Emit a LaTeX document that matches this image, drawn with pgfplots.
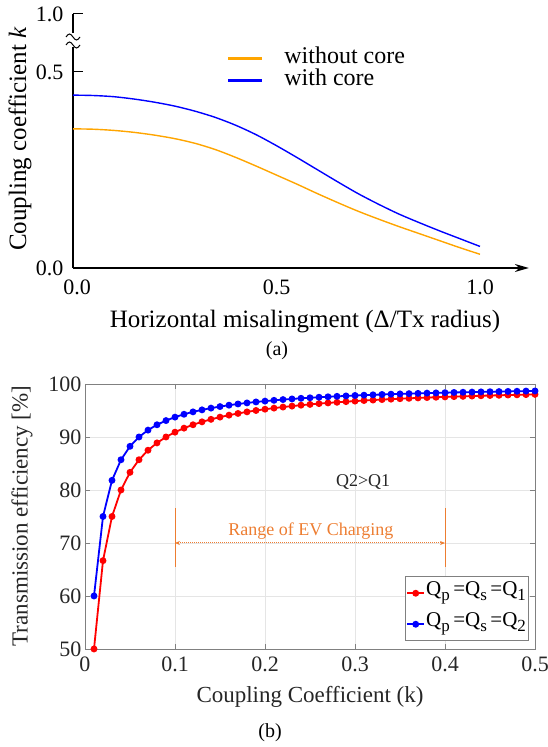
\documentclass[border=0pt]{standalone}
\usepackage{fontspec}
\setmainfont{Liberation Serif}
\usepackage{pgfplots}
\pgfplotsset{compat=1.18}
\usetikzlibrary{arrows.meta}
\definecolor{korange}{RGB}{255,165,0}
\definecolor{kblue}{RGB}{0,0,255}
\definecolor{annor}{RGB}{237,125,49}
\newcommand{\fs}[1]{\fontsize{#1}{#1}\selectfont}
\newcommand{\sub}[1]{\raisebox{-5pt}{\fs{17}#1}}

\begin{document}
\begin{tikzpicture}
% ---------------- (a) ----------------
\begin{axis}[
  at={(73pt,479pt)}, anchor=south west,
  x=407pt, y=392pt,
  xmin=0, xmax=1.12, ymin=0, ymax=0.648,
  axis x line=bottom, axis y line=left,
  x axis line style={-{Stealth[length=14pt,width=8pt]}, line width=1.2pt},
  y axis line style={-, line width=1.2pt},
  xtick={0,0.5,1}, xticklabels={\hspace*{8pt}0.0,0.5,1.0},
  ytick={0,0.5,0.648}, yticklabels={0.0,0.5,1.0},
  x tick style={draw=none},
  y tick style={line width=1pt, black},
  tick align=inside, major tick length=10pt,
  ticklabel style={font=\fs{22}},
  xticklabel style={yshift=-8pt},
  yticklabel style={xshift=-6pt},
  legend style={draw=none, fill=none, at={(axis cs:0.37,0.565)}, anchor=north west,
    font=\fs{24}, row sep=2pt, nodes={inner sep=1pt, text height=14pt, text depth=4pt},
    /tikz/every odd column/.append style={column sep=20pt}},
  legend cell align=left,
  legend image code/.code={\draw[#1, line width=2.6pt] (0pt,0pt) -- (34pt,0pt);},
  clip=false,
]
\addplot[korange, line width=1.4pt, smooth] coordinates {
(0.00,0.355) (0.05,0.354) (0.10,0.351) (0.15,0.346) (0.20,0.339) (0.25,0.330)
(0.30,0.318) (0.35,0.302) (0.40,0.282) (0.45,0.260) (0.50,0.237) (0.55,0.214)
(0.60,0.190) (0.65,0.167) (0.70,0.145) (0.75,0.125) (0.80,0.106) (0.85,0.088)
(0.90,0.070) (0.95,0.052) (1.00,0.035)};
\addlegendentry{without core}
\addplot[kblue, line width=1.4pt, smooth] coordinates {
(0.00,0.441) (0.05,0.440) (0.10,0.437) (0.15,0.431) (0.20,0.423) (0.25,0.413)
(0.30,0.400) (0.35,0.384) (0.40,0.364) (0.45,0.340) (0.50,0.312) (0.55,0.282)
(0.60,0.251) (0.65,0.220) (0.70,0.190) (0.75,0.163) (0.80,0.138) (0.85,0.116)
(0.90,0.095) (0.95,0.075) (1.00,0.055)};
\addlegendentry{with core}
\end{axis}
% axis break
\fill[white] (67pt,700pt) rectangle (79pt,714pt);
\draw[line width=1pt] (66pt,702pt) sin (69.5pt,705pt) cos (73pt,702pt) sin (76.5pt,699pt) cos (80pt,702pt);
\draw[line width=1pt] (66pt,710pt) sin (69.5pt,713pt) cos (73pt,710pt) sin (76.5pt,707pt) cos (80pt,710pt);
\node[rotate=90, font=\fs{25}] at (20pt,608pt) {Coupling coefficient \textit{k}};
\node[font=\fs{25}] at (305pt,425pt) {Horizontal misalingment (Δ/Tx radius)};
\node[font=\fs{20}] at (277pt,396pt) {(a)};

% ---------------- (b) ----------------
\begin{axis}[
  at={(85pt,98pt)}, anchor=south west,
  width=450pt, height=265pt, scale only axis,
  xmin=0, xmax=0.5, ymin=50, ymax=100,
  xtick={0,0.1,0.2,0.3,0.4,0.5}, xticklabels={0,0.1,0.2,0.3,0.4,0.5},
  ytick={50,60,70,80,90,100},
  grid=major, major grid style={color=black!10, line width=0.5pt},
  axis line style={color=black!50, line width=0.8pt},
  tick style={color=black!50, line width=0.6pt},
  tick align=inside, major tick length=5pt,
  ticklabel style={font=\fs{22}, text=black!85},
  xticklabel style={yshift=-4pt},
  /pgf/number format/assume math mode=true,
  legend style={at={(0.985,0.03)}, anchor=south east, draw=black!50, line width=0.6pt,
    font=\fs{21}, inner sep=1pt, row sep=0pt, nodes={inner sep=1pt, text height=17pt, text depth=12pt}},
  legend cell align=left,
  clip=false,
]
\addplot[red, line width=1.8pt, mark=*, mark size=2.5pt] coordinates {
(0.01,50.00) (0.02,66.67) (0.03,75.00) (0.04,80.00) (0.05,83.33) (0.06,85.71)
(0.07,87.50) (0.08,88.89) (0.09,90.00) (0.10,90.91) (0.11,91.67) (0.12,92.31)
(0.13,92.86) (0.14,93.33) (0.15,93.75) (0.16,94.12) (0.17,94.44) (0.18,94.74)
(0.19,95.00) (0.20,95.24) (0.21,95.45) (0.22,95.65) (0.23,95.83) (0.24,96.00)
(0.25,96.15) (0.26,96.30) (0.27,96.43) (0.28,96.55) (0.29,96.67) (0.30,96.77)
(0.31,96.88) (0.32,96.97) (0.33,97.06) (0.34,97.14) (0.35,97.22) (0.36,97.30)
(0.37,97.37) (0.38,97.44) (0.39,97.50) (0.40,97.56) (0.41,97.62) (0.42,97.67)
(0.43,97.73) (0.44,97.78) (0.45,97.83) (0.46,97.87) (0.47,97.92) (0.48,97.96)
(0.49,98.00) (0.50,98.04)};
\addlegendentry{Q\sub{p}\,=Q\sub{s}\,=Q\sub{1}}
\addplot[blue, line width=1.8pt, mark=*, mark size=2.5pt] coordinates {
(0.01,60.00) (0.02,75.00) (0.03,81.82) (0.04,85.71) (0.05,88.24) (0.06,90.00)
(0.07,91.30) (0.08,92.31) (0.09,93.10) (0.10,93.75) (0.11,94.29) (0.12,94.74)
(0.13,95.12) (0.14,95.45) (0.15,95.74) (0.16,96.00) (0.17,96.23) (0.18,96.43)
(0.19,96.61) (0.20,96.77) (0.21,96.92) (0.22,97.06) (0.23,97.18) (0.24,97.30)
(0.25,97.40) (0.26,97.50) (0.27,97.59) (0.28,97.67) (0.29,97.75) (0.30,97.83)
(0.31,97.89) (0.32,97.96) (0.33,98.02) (0.34,98.08) (0.35,98.13) (0.36,98.18)
(0.37,98.23) (0.38,98.28) (0.39,98.32) (0.40,98.36) (0.41,98.40) (0.42,98.44)
(0.43,98.47) (0.44,98.51) (0.45,98.54) (0.46,98.57) (0.47,98.60) (0.48,98.63)
(0.49,98.66) (0.50,98.68)};
\addlegendentry{Q\sub{p}\,=Q\sub{s}\,=Q\sub{2}}
\draw[annor, line width=0.8pt] (axis cs:0.1,65.5) -- (axis cs:0.1,76.6);
\draw[annor, line width=0.8pt] (axis cs:0.4,65.5) -- (axis cs:0.4,76.6);
\draw[annor, densely dotted, line width=1pt, {Stealth[length=5pt,width=4pt]}-{Stealth[length=5pt,width=4pt]}] (axis cs:0.1,70) -- (axis cs:0.4,70);
\node[annor, font=\fs{18}] at (axis cs:0.251,72.3) {Range of EV Charging};
\node[font=\fs{18}, text=black!85] at (axis cs:0.309,81.6) {Q2>Q1};
\end{axis}
\node[rotate=90, font=\fs{23}, text=black!85] at (22pt,231pt) {Transmission efficiency [\%]};
\node[font=\fs{23}, text=black!85] at (310pt,50pt) {Coupling Coefficient (k)};
\node[font=\fs{20}] at (270pt,14pt) {(b)};
\pgfresetboundingbox
\useasboundingbox (0pt,0pt) rectangle (548pt,747pt);
\end{tikzpicture}
\end{document}
